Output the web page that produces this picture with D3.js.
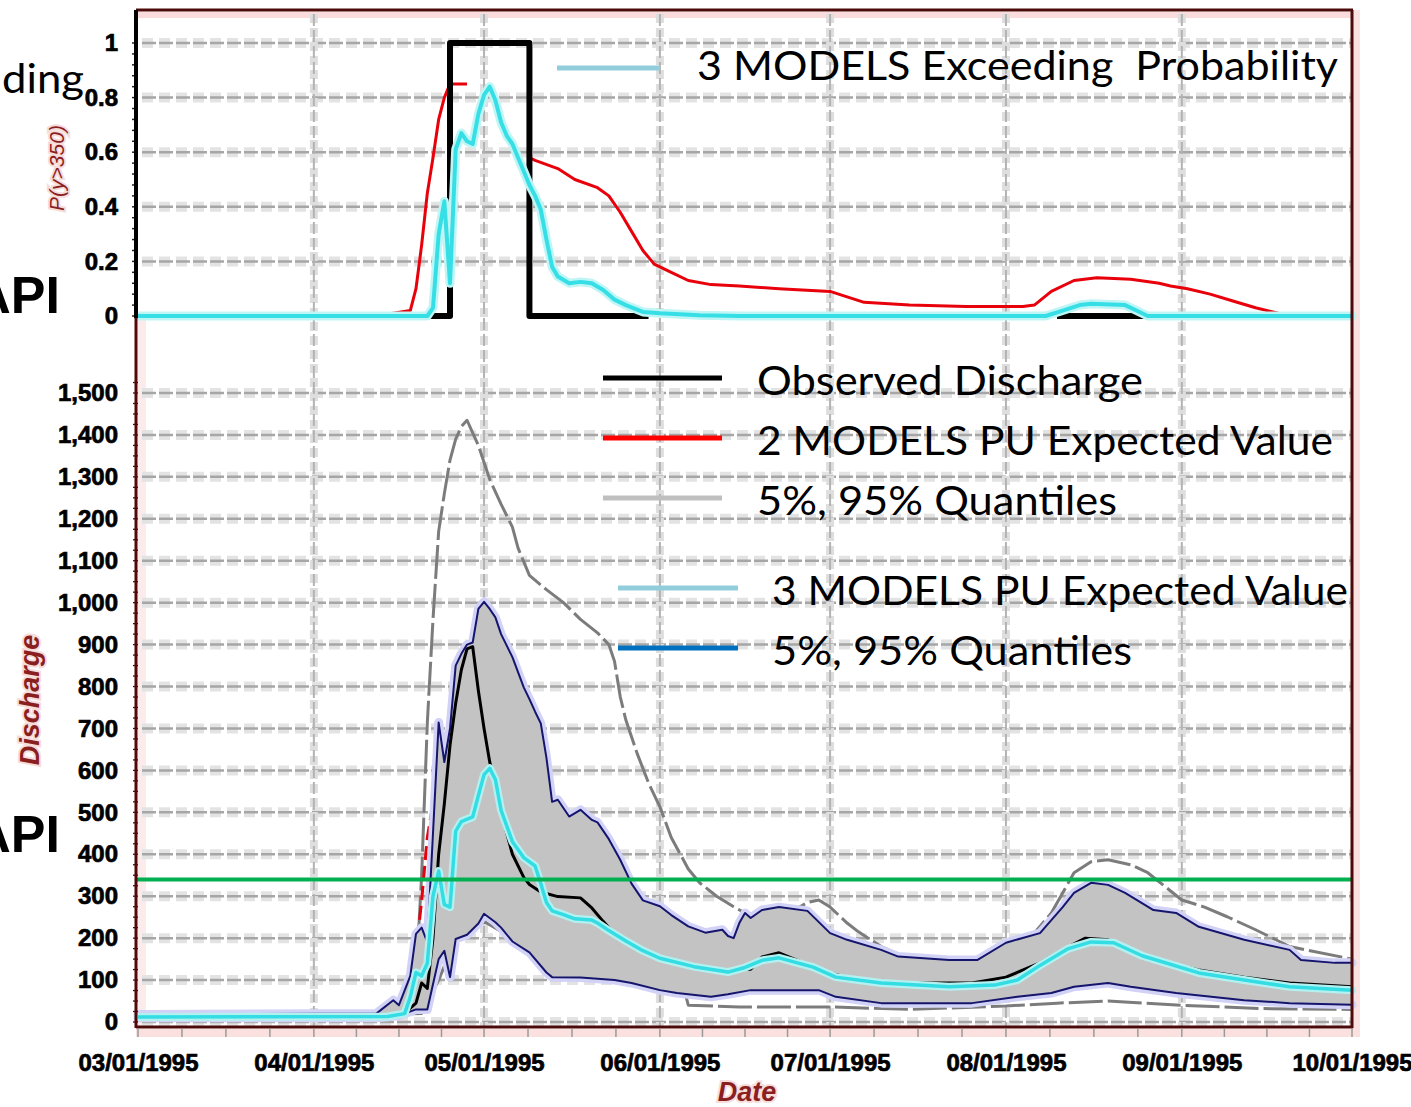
<!DOCTYPE html>
<html>
<head>
<meta charset="utf-8">
<script src="https://cdn.jsdelivr.net/npm/d3@7/dist/d3.min.js"></script>
<style>
  html, body { margin: 0; padding: 0; background: #fff; overflow: hidden; }
  svg { display: block; }
</style>
</head>
<body>
<svg id="chart" width="1411" height="1107"></svg>
<script>
// ---------- data (dates are in 1995, "MM-DD") ----------
const monthTicks = ["03-01", "04-01", "05-01", "06-01", "07-01", "08-01", "09-01", "10-01"];
const probTicks = [0, 0.2, 0.4, 0.6, 0.8, 1];
const dischargeTicks = [0, 100, 200, 300, 400, 500, 600, 700, 800, 900, 1000, 1100, 1200, 1300, 1400, 1500];
const threshold = 340;

// exceedance probability P(y>350)
const probObserved = [["04-20", 0], ["04-25", 1], ["05-09", 0], ["05-30", 0], ["05-31", null],
  ["08-10", 0], ["09-02", 0]];

const probTwoModels = [["03-01", 0], ["04-12", 0], ["04-18", 0.02], ["04-19", 0.1], ["04-20", 0.26],
  ["04-21", 0.45], ["04-22", 0.58], ["04-23", 0.72], ["04-24", 0.8], ["04-25", 0.85], ["04-28", 0.85],
  ["04-29", null], ["05-09", 0.58], ["05-10", 0.57], ["05-14", 0.54], ["05-17", 0.5], ["05-21", 0.47],
  ["05-23", 0.44], ["05-25", 0.38], ["05-27", 0.31], ["05-29", 0.24], ["05-31", 0.19], ["06-03", 0.16],
  ["06-06", 0.13], ["06-10", 0.115], ["06-15", 0.11], ["06-22", 0.1], ["07-01", 0.09], ["07-04", 0.07],
  ["07-07", 0.05], ["07-15", 0.04], ["07-25", 0.035], ["08-04", 0.035], ["08-06", 0.04], ["08-09", 0.09],
  ["08-13", 0.13], ["08-17", 0.14], ["08-23", 0.135], ["08-28", 0.12], ["08-30", 0.11], ["09-02", 0.1],
  ["09-06", 0.08], ["09-10", 0.055], ["09-14", 0.03], ["09-18", 0.01], ["09-22", 0], ["10-01", 0]];

const probThreeModels = [["03-01", 0], ["04-21", 0], ["04-22", 0.03], ["04-23", 0.3], ["04-24", 0.42],
  ["04-25", 0.12], ["04-26", 0.61], ["04-27", 0.67], ["04-28", 0.64], ["04-29", 0.63], ["04-30", 0.74],
  ["05-01", 0.81], ["05-02", 0.84], ["05-03", 0.79], ["05-04", 0.71], ["05-05", 0.66], ["05-06", 0.63],
  ["05-07", 0.58], ["05-08", 0.53], ["05-09", 0.48], ["05-10", 0.44], ["05-11", 0.39], ["05-12", 0.28],
  ["05-13", 0.18], ["05-14", 0.145], ["05-16", 0.12], ["05-18", 0.125], ["05-20", 0.12], ["05-22", 0.095],
  ["05-24", 0.06], ["05-26", 0.04], ["05-29", 0.015], ["06-01", 0.01], ["06-08", 0.003], ["06-15", 0],
  ["08-08", 0], ["08-11", 0.02], ["08-14", 0.04], ["08-16", 0.045], ["08-22", 0.04], ["08-24", 0.02],
  ["08-26", 0], ["10-01", 0]];

// discharge
const observed = [["03-01", 14], ["04-14", 15], ["04-17", 21], ["04-19", 45], ["04-20", 93], ["04-21", 80],
  ["04-22", 200], ["04-23", 400], ["04-24", 520], ["04-25", 660], ["04-26", 760], ["04-27", 840],
  ["04-28", 890], ["04-29", 895], ["04-30", 790], ["05-01", 700], ["05-02", 620], ["05-03", 570],
  ["05-04", 500], ["05-06", 400], ["05-08", 345], ["05-09", 328], ["05-11", 310], ["05-14", 299],
  ["05-18", 296], ["05-20", 272], ["05-22", 240], ["05-24", 210], ["05-27", 185], ["05-30", 163],
  ["06-01", 150], ["06-07", 132], ["06-13", 124], ["06-17", 126], ["06-19", 155], ["06-22", 165],
  ["06-26", 143], ["06-30", 120], ["07-06", 100], ["07-14", 93], ["07-26", 93], ["08-01", 107],
  ["08-07", 141], ["08-11", 172], ["08-15", 200], ["08-19", 196], ["08-21", 186], ["08-27", 148],
  ["09-04", 124], ["09-12", 107], ["09-20", 93], ["10-01", 84]];

const expectedTwoModels = [["03-01", 14], ["04-12", 14], ["04-18", 40], ["04-20", 290], ["04-21", 440],
  ["04-22", 520], ["04-23", 640], ["04-24", 560], ["04-25", 650], ["04-27", 820], ["04-29", 860],
  ["05-01", 690], ["05-04", 490], ["05-08", 360], ["05-12", 310], ["05-18", 285], ["05-24", 215],
  ["06-01", 155], ["06-13", 126], ["06-20", 156], ["07-01", 115], ["07-15", 92], ["08-01", 104],
  ["08-15", 195], ["08-20", 192], ["09-01", 135], ["09-15", 100], ["10-01", 82]];

const upperTwoModels = [["03-01", 15], ["04-12", 15], ["04-17", 25], ["04-19", 100], ["04-20", 350],
  ["04-21", 714], ["04-22", 960], ["04-23", 1170], ["04-24", 1260], ["04-25", 1340], ["04-26", 1390],
  ["04-27", 1420], ["04-28", 1435], ["04-29", 1405], ["04-30", 1375], ["05-02", 1294], ["05-04", 1235],
  ["05-06", 1180], ["05-07", 1130], ["05-09", 1065], ["05-12", 1031], ["05-15", 1000], ["05-18", 960],
  ["05-21", 928], ["05-23", 900], ["05-24", 860], ["05-25", 776], ["05-26", 720], ["05-28", 640],
  ["05-30", 570], ["06-01", 513], ["06-03", 440], ["06-06", 365], ["06-08", 332], ["06-11", 300],
  ["06-14", 275], ["06-17", 252], ["06-22", 245], ["06-27", 285], ["06-29", 291], ["07-01", 274],
  ["07-04", 236], ["07-06", 215], ["07-10", 180], ["07-15", 150], ["07-25", 140], ["08-04", 180],
  ["08-09", 260], ["08-13", 356], ["08-16", 382], ["08-19", 387], ["08-23", 375], ["08-26", 356],
  ["09-01", 291], ["09-05", 274], ["09-09", 251], ["09-14", 220], ["09-20", 180], ["10-01", 150]];

const lowerTwoModels = [["03-01", 8], ["04-20", 20], ["04-23", 100], ["04-26", 200], ["05-01", 240],
  ["05-06", 200], ["05-12", 150], ["05-20", 130], ["06-01", 100], ["06-05", 92], ["06-06", 40],
  ["06-15", 36], ["07-01", 36], ["07-15", 30], ["08-01", 38], ["08-10", 45], ["08-19", 50],
  ["09-01", 40], ["09-15", 32], ["10-01", 30]];

const expectedThreeModels = [["03-01", 12], ["04-14", 13], ["04-17", 20], ["04-18", 60], ["04-19", 118],
  ["04-20", 110], ["04-21", 140], ["04-22", 300], ["04-23", 360], ["04-24", 280], ["04-25", 274],
  ["04-26", 455], ["04-27", 478], ["04-29", 489], ["04-30", 540], ["05-01", 590], ["05-02", 605],
  ["05-03", 578], ["05-04", 505], ["05-06", 430], ["05-08", 392], ["05-10", 372], ["05-11", 330],
  ["05-12", 285], ["05-13", 265], ["05-15", 256], ["05-17", 246], ["05-20", 243], ["05-21", 236],
  ["05-23", 218], ["05-26", 193], ["05-29", 170], ["06-01", 152], ["06-07", 132], ["06-13", 119],
  ["06-16", 130], ["06-19", 147], ["06-22", 153], ["06-28", 131], ["07-02", 107], ["07-10", 93],
  ["07-22", 84], ["07-30", 88], ["08-03", 100], ["08-07", 135], ["08-12", 175], ["08-16", 191],
  ["08-20", 189], ["08-25", 158], ["09-04", 117], ["09-12", 100], ["09-20", 84], ["10-01", 76]];

const upperThreeModels = [["03-01", 18], ["04-12", 20], ["04-15", 52], ["04-16", 40], ["04-18", 110],
  ["04-19", 210], ["04-20", 225], ["04-21", 190], ["04-22", 450], ["04-23", 714], ["04-24", 620],
  ["04-25", 700], ["04-26", 850], ["04-27", 878], ["04-28", 900], ["04-29", 905], ["04-30", 985],
  ["05-01", 1002], ["05-02", 985], ["05-03", 965], ["05-04", 925], ["05-06", 870], ["05-08", 798],
  ["05-09", 770], ["05-10", 740], ["05-11", 712], ["05-12", 630], ["05-13", 525], ["05-14", 530],
  ["05-16", 490], ["05-18", 506], ["05-20", 482], ["05-21", 476], ["05-23", 436], ["05-25", 387],
  ["05-27", 330], ["05-29", 290], ["06-01", 276], ["06-03", 255], ["06-06", 228], ["06-09", 213],
  ["06-12", 220], ["06-13", 205], ["06-14", 200], ["06-15", 236], ["06-16", 260], ["06-17", 248],
  ["06-19", 267], ["06-22", 274], ["06-27", 265], ["07-01", 212], ["07-04", 196], ["07-10", 172],
  ["07-13", 156], ["07-22", 148], ["07-27", 148], ["08-01", 189], ["08-07", 212], ["08-11", 274],
  ["08-13", 308], ["08-16", 332], ["08-19", 327], ["08-22", 308], ["08-27", 267], ["08-31", 260],
  ["09-04", 227], ["09-12", 196], ["09-20", 172], ["09-22", 148], ["09-28", 141], ["10-01", 141]];

const lowerThreeModels = [["03-01", 10], ["04-12", 10], ["04-16", 15], ["04-19", 30], ["04-21", 30],
  ["04-22", 90], ["04-23", 150], ["04-24", 170], ["04-25", 107], ["04-26", 198], ["04-28", 208],
  ["04-30", 235], ["05-01", 258], ["05-02", 248], ["05-03", 238], ["05-04", 225], ["05-06", 192],
  ["05-09", 166], ["05-12", 118], ["05-13", 107], ["05-18", 106], ["05-24", 100], ["05-27", 93],
  ["06-01", 76], ["06-04", 69], ["06-10", 60], ["06-13", 66], ["06-17", 76], ["06-29", 76],
  ["07-02", 60], ["07-10", 45], ["07-26", 45], ["08-03", 60], ["08-09", 69], ["08-13", 84],
  ["08-19", 93], ["08-23", 84], ["08-31", 69], ["09-12", 52], ["09-20", 45], ["10-01", 41]];

// ---------- helpers ----------
const parseDay = d3.timeParse("%Y-%m-%d");
const P = s => parseDay("1995-" + s);
const pts = arr => arr.map(([d, v]) => ({ date: P(d), value: v }));

const svg = d3.select("#chart");
svg.append("rect").attr("width", 1411).attr("height", 1107).attr("fill", "#fff");

const x = d3.scaleTime().domain([P("03-01"), P("10-01")]).range([138, 1352]);
const yProb = d3.scaleLinear().domain([0, 1]).range([316, 43]);
const yQ = d3.scaleLinear().domain([0, 1500]).range([1022, 393]);

const X0 = x.range()[0], X1 = x.range()[1];
const TOP_Y = 10, BOTTOM_Y = 1027;

const lineFor = (y, curve) => d3.line()
  .defined(d => d.value != null)
  .x(d => x(d.date))
  .y(d => y(d.value))
  .curve(curve || d3.curveLinear);

function drawLine(g, data, y, color, width, opts = {}) {
  return g.append("path")
    .attr("d", lineFor(y, opts.curve)(pts(data)))
    .attr("fill", "none")
    .attr("stroke", color)
    .attr("stroke-width", width)
    .attr("stroke-linejoin", "round")
    .attr("stroke-linecap", opts.cap || "butt")
    .attr("stroke-dasharray", opts.dash || null);
}

// ---------- frame shading ----------
const frameG = svg.append("g");
frameG.append("rect").attr("x", X0 - 2).attr("y", TOP_Y + 2).attr("width", X1 - X0 + 4).attr("height", 6).attr("fill", "#fbdcdc");
frameG.append("rect").attr("x", X1 + 1).attr("y", TOP_Y).attr("width", 7).attr("height", BOTTOM_Y - TOP_Y + 8).attr("fill", "#fbe2e2");
frameG.append("rect").attr("x", X0 - 2).attr("y", BOTTOM_Y + 2).attr("width", X1 - X0 + 10).attr("height", 8).attr("fill", "#fbe0e0");
frameG.append("rect").attr("x", X0).attr("y", 318).attr("width", 8).attr("height", BOTTOM_Y - 318).attr("fill", "#fcebeb");

// ---------- grid ----------
const gridG = svg.append("g");
function hGrid(y, values) {
  const g = gridG.append("g");
  g.selectAll("line.halo").data(values).join("line").attr("class", "halo")
    .attr("x1", X0 + 4).attr("x2", X1).attr("y1", d => y(d)).attr("y2", d => y(d))
    .attr("stroke", "#e3e3e3").attr("stroke-width", 10).attr("stroke-dasharray", "11,6");
  g.selectAll("line.core").data(values).join("line").attr("class", "core")
    .attr("x1", X0 + 4).attr("x2", X1).attr("y1", d => y(d)).attr("y2", d => y(d))
    .attr("stroke", "#a6a6a6").attr("stroke-width", 2.5).attr("stroke-dasharray", "14,3");
}
hGrid(yProb, probTicks.filter(d => d > 0));
hGrid(yQ, dischargeTicks);

const monthDates = monthTicks.map(P);
const vg = gridG.append("g");
vg.selectAll("line.halo").data(monthDates.slice(1, -1)).join("line").attr("class", "halo")
  .attr("x1", d => x(d)).attr("x2", d => x(d)).attr("y1", TOP_Y + 4).attr("y2", BOTTOM_Y)
  .attr("stroke", "#dedede").attr("stroke-width", 8).attr("stroke-dasharray", "9,5");
vg.selectAll("line.core").data(monthDates.slice(1, -1)).join("line").attr("class", "core")
  .attr("x1", d => x(d)).attr("x2", d => x(d)).attr("y1", TOP_Y + 4).attr("y2", BOTTOM_Y)
  .attr("stroke", "#b3b3b3").attr("stroke-width", 2).attr("stroke-dasharray", "12,4");

// ---------- exceedance panel ----------
const probPanel = svg.append("g");
drawLine(probPanel, probTwoModels, yProb, "#e8000b", 3);
drawLine(probPanel, probObserved, yProb, "#000", 6, { curve: d3.curveStepAfter });
drawLine(probPanel, probThreeModels, yProb, "#bff5f5", 9, { cap: "round" });
drawLine(probPanel, probThreeModels, yProb, "#36dfe6", 4);

// ---------- discharge panel ----------
const flowPanel = svg.append("g");
drawLine(flowPanel, upperTwoModels, yQ, "#7c7c7c", 3, { dash: "34,5" });
drawLine(flowPanel, lowerTwoModels, yQ, "#7c7c7c", 3, { dash: "34,5" });
drawLine(flowPanel, expectedTwoModels, yQ, "#e8000b", 3, { dash: "14,6" });

// halo around the 3-model quantile band
drawLine(flowPanel, upperThreeModels, yQ, "#d2d2f6", 9, { cap: "round" });
drawLine(flowPanel, lowerThreeModels, yQ, "#d2d2f6", 9, { cap: "round" });

const bandPts = pts(upperThreeModels).concat(pts(lowerThreeModels).reverse());
flowPanel.append("path")
  .attr("d", d3.line().x(d => x(d.date)).y(d => yQ(d.value))(bandPts) + "Z")
  .attr("fill", "#c3c3c3");

drawLine(flowPanel, upperThreeModels, yQ, "#15156e", 2);
drawLine(flowPanel, lowerThreeModels, yQ, "#15156e", 2);
drawLine(flowPanel, observed, yQ, "#000", 3);
drawLine(flowPanel, expectedThreeModels, yQ, "#b3f1f1", 8, { cap: "round" });
drawLine(flowPanel, expectedThreeModels, yQ, "#33dde3", 3.5);

// threshold line
flowPanel.append("line")
  .attr("x1", X0 - 1).attr("x2", X1)
  .attr("y1", yQ(threshold)).attr("y2", yQ(threshold))
  .attr("stroke", "#00b050").attr("stroke-width", 4);

// ---------- axes ----------
const axesG = svg.append("g");
// minor ticks on the left axis
axesG.append("g").selectAll("line").data(d3.range(0, 1.001, 0.04)).join("line")
  .attr("x1", X0 - 6).attr("x2", X0).attr("y1", d => yProb(d)).attr("y2", d => yProb(d))
  .attr("stroke", "#222").attr("stroke-width", 1.5);
axesG.append("g").selectAll("line").data(d3.range(0, 1526, 25)).join("line")
  .attr("x1", X0 - 5).attr("x2", X0).attr("y1", d => yQ(d)).attr("y2", d => yQ(d))
  .attr("stroke", "#4a0a0a").attr("stroke-width", 1.3);
// quarter-month ticks on the date axis
const quarterTicks = [];
for (let i = 0; i < monthDates.length - 1; i++) {
  const a = monthDates[i], b = monthDates[i + 1];
  for (let k = 0; k < 4; k++) quarterTicks.push(new Date(+a + (b - a) * k / 4));
}
quarterTicks.push(monthDates[monthDates.length - 1]);
axesG.append("g").selectAll("line").data(quarterTicks).join("line")
  .attr("x1", d => x(d)).attr("x2", d => x(d)).attr("y1", BOTTOM_Y + 2).attr("y2", BOTTOM_Y + 10)
  .attr("stroke", "#9a9a9a").attr("stroke-width", 1.5);

// frame lines
axesG.append("line").attr("x1", X0 - 2).attr("x2", X1 + 1).attr("y1", TOP_Y).attr("y2", TOP_Y)
  .attr("stroke", "#4d0a0a").attr("stroke-width", 3);
axesG.append("line").attr("x1", X1).attr("x2", X1).attr("y1", TOP_Y).attr("y2", BOTTOM_Y + 1)
  .attr("stroke", "#4d0a0a").attr("stroke-width", 3);
axesG.append("line").attr("x1", X0 - 2).attr("x2", X1 + 1).attr("y1", BOTTOM_Y).attr("y2", BOTTOM_Y)
  .attr("stroke", "#4d0a0a").attr("stroke-width", 3);
axesG.append("line").attr("x1", X0 - 2).attr("x2", X0 - 2).attr("y1", TOP_Y).attr("y2", 318)
  .attr("stroke", "#000").attr("stroke-width", 4);
axesG.append("line").attr("x1", X0 - 2).attr("x2", X0 - 2).attr("y1", 318).attr("y2", BOTTOM_Y + 1)
  .attr("stroke", "#520808").attr("stroke-width", 3);

function styleTicks(g) {
  g.select(".domain").remove();
  g.selectAll(".tick line").remove();
  g.selectAll(".tick text")
    .attr("fill", "#000")
    .attr("stroke", "#000")
    .attr("stroke-width", 0.7)
    .style("font-family", "'Liberation Sans', Arial, sans-serif")
    .style("font-weight", "bold")
    .style("font-size", "24px");
}

axesG.append("g").attr("transform", `translate(${X0 - 2},0)`)
  .call(d3.axisLeft(yProb).tickValues(probTicks).tickSize(0).tickPadding(18)
    .tickFormat(d => (d === 0 || d === 1) ? String(d) : d.toFixed(1)))
  .call(styleTicks);

axesG.append("g").attr("transform", `translate(${X0 - 2},0)`)
  .call(d3.axisLeft(yQ).tickValues(dischargeTicks).tickSize(0).tickPadding(18)
    .tickFormat(d3.format(",")))
  .call(styleTicks);

axesG.append("g").attr("transform", `translate(0,${BOTTOM_Y})`)
  .call(d3.axisBottom(x).tickValues(monthDates).tickSize(0).tickPadding(27)
    .tickFormat(d3.timeFormat("%m/%d/%Y")))
  .call(styleTicks);

// axis titles
const titleStyle = sel => sel
  .attr("fill", "#8a1f1f")
  .attr("stroke", "#f7dcdc").attr("stroke-width", 4).style("paint-order", "stroke")
  .style("font-family", "'Liberation Sans', Arial, sans-serif")
  .style("font-style", "italic");

axesG.append("text").text("P(y>350)")
  .attr("transform", "translate(64,168) rotate(-90)")
  .attr("text-anchor", "middle")
  .style("font-size", "21px")
  .call(titleStyle);

axesG.append("text").text("Discharge")
  .attr("transform", "translate(39,700) rotate(-90)")
  .attr("text-anchor", "middle")
  .style("font-size", "27px").style("font-weight", "bold")
  .call(titleStyle);

axesG.append("text").text("Date")
  .attr("x", 747).attr("y", 1101)
  .attr("text-anchor", "middle")
  .style("font-size", "27px").style("font-weight", "bold")
  .call(titleStyle);

// ---------- legend ----------
const legendG = svg.append("g");
const legendItems = [
  { label: "3 MODELS Exceeding  Probability", color: "#92cddc", x1: 557, x2: 660, ly: 68, tx: 697, ty: 80, w: 641 },
  { label: "Observed Discharge", color: "#000000", x1: 603, x2: 722, ly: 378, tx: 757, ty: 395, w: 386 },
  { label: "2 MODELS PU Expected Value", color: "#ff0000", x1: 603, x2: 722, ly: 438, tx: 757, ty: 455, w: 576 },
  { label: "5%, 95% Quantiles", color: "#bfbfbf", x1: 603, x2: 722, ly: 498, tx: 757, ty: 515, w: 360 },
  { label: "3 MODELS PU Expected Value", color: "#92cddc", x1: 618, x2: 738, ly: 588, tx: 772, ty: 605, w: 576 },
  { label: "5%, 95% Quantiles", color: "#0070c0", x1: 618, x2: 738, ly: 648, tx: 772, ty: 665, w: 360 }
];
legendG.selectAll("line").data(legendItems).join("line")
  .attr("x1", d => d.x1).attr("x2", d => d.x2).attr("y1", d => d.ly).attr("y2", d => d.ly)
  .attr("stroke", d => d.color).attr("stroke-width", 5);
legendG.selectAll("text").data(legendItems).join("text")
  .attr("x", d => d.tx).attr("y", d => d.ty)
  .attr("textLength", d => d.w).attr("lengthAdjust", "spacingAndGlyphs")
  .style("white-space", "pre")
  .style("font-family", "Lato, 'Open Sans', sans-serif")
  .style("font-size", "40px")
  .attr("fill", "#000")
  .text(d => d.label);

// side captions at the left edge
const sideG = svg.append("g");
sideG.append("text").text("ding")
  .attr("x", 2).attr("y", 93)
  .attr("textLength", 82).attr("lengthAdjust", "spacingAndGlyphs")
  .style("font-family", "Lato, 'Open Sans', sans-serif").style("font-size", "40px")
  .attr("fill", "#000");
[313, 852].forEach(yb => {
  sideG.append("text").text("API")
    .attr("x", 60).attr("y", yb).attr("text-anchor", "end")
    .style("font-family", "'Liberation Sans', Arial, sans-serif")
    .style("font-weight", "bold").style("font-size", "52px")
    .attr("fill", "#000");
});
</script>
</body>
</html>
